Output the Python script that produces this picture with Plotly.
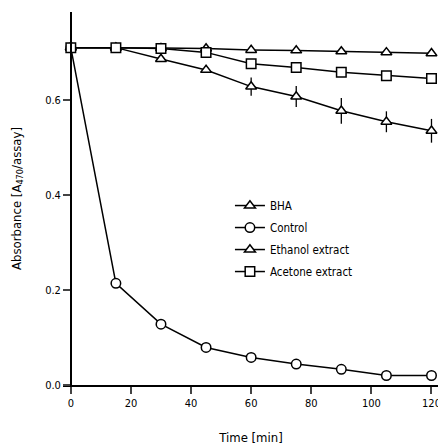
import plotly.graph_objects as go

time_min = [0, 15, 30, 45, 60, 75, 90, 105, 120]
bha = [0.710, 0.710, 0.709, 0.708, 0.705, 0.704, 0.702, 0.700, 0.698]
control = [0.710, 0.214, 0.128, 0.079, 0.058, 0.044, 0.033, 0.020, 0.020]
ethanol = [0.710, 0.710, 0.686, 0.663, 0.628, 0.607, 0.577, 0.554, 0.535]
ethanol_err = [0, 0, 0, 0, 0.019, 0.022, 0.027, 0.022, 0.025]
acetone = [0.710, 0.710, 0.708, 0.700, 0.676, 0.668, 0.658, 0.651, 0.645]

x_ticks = [0, 20, 40, 60, 80, 100, 120]
y_ticks = [0.0, 0.2, 0.4, 0.6]
y_tick_labels = ["0.0", "0.2", "0.4", "0.6"]

FONT = "DejaVu Sans Condensed, Liberation Sans Narrow, Liberation Sans, Arial, sans-serif"

def mk(symbol):
    return dict(symbol=symbol, size=9.5, color="white", line=dict(color="black", width=1.5))

fig = go.Figure()
fig.add_trace(go.Scatter(x=time_min, y=bha, name="BHA", mode="lines+markers", legendgroup="g1",
                         line=dict(color="black", width=1.5), marker=mk("triangle-up"), cliponaxis=False))
fig.add_trace(go.Scatter(x=time_min, y=control, name="Control", mode="lines+markers", legendgroup="g2",
                         line=dict(color="black", width=1.5), marker=mk("circle"), cliponaxis=False))
fig.add_trace(go.Scatter(x=time_min, y=ethanol, name="Ethanol extract", mode="lines+markers", legendgroup="g3",
                         line=dict(color="black", width=1.5), marker=mk("triangle-up"),
                         error_y=dict(type="data", array=ethanol_err, visible=True, width=0, thickness=1.3, color="black"),
                         cliponaxis=False))
fig.add_trace(go.Scatter(x=time_min, y=acetone, name="Acetone extract", mode="lines+markers", legendgroup="g4",
                         line=dict(color="black", width=1.5), marker=mk("square"), cliponaxis=False))

# page body adds an 8px margin, so the figure is 8px smaller than the window
fig.update_layout(
    width=438, height=437,
    margin=dict(l=55, r=7, t=4, b=60),
    paper_bgcolor="white", plot_bgcolor="white",
    font=dict(family=FONT, size=11, color="black"),
    showlegend=True,
    legend=dict(x=0.444, y=0.52, xanchor="left", yanchor="top", bgcolor="rgba(0,0,0,0)",
                font=dict(size=11.5), tracegroupgap=3, itemwidth=30),
    xaxis=dict(range=[-2.6, 122.5], tickvals=x_ticks, ticks="outside", ticklen=7, tickwidth=1.5,
               showline=True, linecolor="black", linewidth=1.5, showgrid=False, zeroline=False,
               automargin=False,
               title=dict(text="Time [min]", standoff=24), tickfont=dict(size=11)),
    yaxis=dict(range=[0, 0.785], tickvals=y_ticks, ticktext=y_tick_labels, ticks="outside", ticklen=7, tickwidth=1.5,
               showline=True, linecolor="black", linewidth=1.5, showgrid=False, zeroline=False,
               anchor="free", position=2.6 / 125.1, automargin=False,
               title=dict(text="Absorbance [A<sub>470</sub>/assay]", standoff=20), tickfont=dict(size=11)),
)

fig.write_html("out.html")
